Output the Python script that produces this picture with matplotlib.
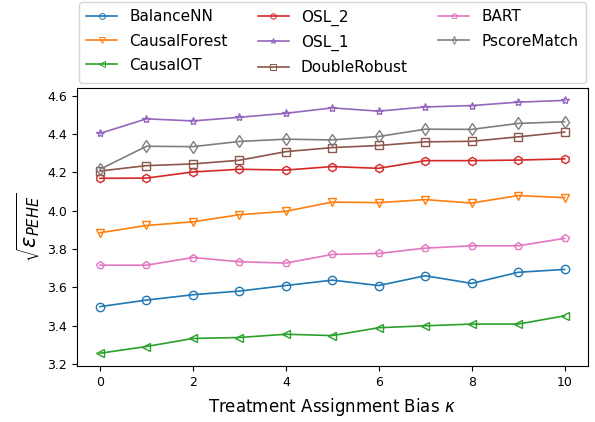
import matplotlib
matplotlib.use('Agg')
import matplotlib.pyplot as plt

kappa = list(range(11))

balance_nn = [3.500, 3.534, 3.562, 3.581, 3.610, 3.638, 3.610, 3.661, 3.621, 3.679, 3.694]
causal_forest = [3.885, 3.923, 3.942, 3.979, 3.997, 4.045, 4.042, 4.058, 4.040, 4.079, 4.068]
causal_ot = [3.257, 3.292, 3.334, 3.339, 3.356, 3.349, 3.390, 3.400, 3.409, 3.409, 3.452]
osl_2 = [4.169, 4.170, 4.202, 4.216, 4.212, 4.230, 4.221, 4.261, 4.261, 4.264, 4.270]
osl_1 = [4.403, 4.479, 4.468, 4.487, 4.508, 4.536, 4.519, 4.541, 4.548, 4.566, 4.575]
double_robust = [4.207, 4.235, 4.244, 4.263, 4.308, 4.329, 4.340, 4.359, 4.362, 4.385, 4.410]
bart = [3.716, 3.716, 3.756, 3.734, 3.727, 3.772, 3.777, 3.805, 3.817, 3.817, 3.856]
pscore_match = [4.216, 4.336, 4.334, 4.361, 4.373, 4.369, 4.387, 4.425, 4.424, 4.455, 4.464]

names = ['BalanceNN', 'CausalForest', 'CausalOT', 'OSL_2', 'OSL_1',
         'DoubleRobust', 'BART', 'PscoreMatch']
series = [balance_nn, causal_forest, causal_ot, osl_2, osl_1,
          double_robust, bart, pscore_match]
markers = ['o', 'v', '<', 'h', '*', 's', 'p', 'd']

fig = plt.figure(figsize=(5.95, 4.22), dpi=100)
ax = fig.add_axes([0.129, 0.133, 0.859, 0.659])

for name, vals, m in zip(names, series, markers):
    ax.plot(kappa, vals, marker=m, markerfacecolor='none', markersize=6,
            markeredgewidth=1.0, linewidth=1.2, label=name)

ax.tick_params(labelsize=9)
ax.set_xticks([0, 2, 4, 6, 8, 10])
ax.set_xlabel(r'Treatment Assignment Bias $\kappa$', fontsize=12, labelpad=5)
ax.set_ylabel(r'$\sqrt{\varepsilon_{PEHE}}$', fontsize=15)

leg = ax.legend(ncol=3, loc='lower center', bbox_to_anchor=(0.5, 1.018),
                fontsize=11, markerscale=0.7, borderaxespad=0.0,
                borderpad=0.5, labelspacing=0.6)
# thinner marker edges so the small legend markers stay hollow
for h in leg.legend_handles:
    h.set_markeredgewidth(0.7)

fig.savefig('out.png', dpi=100)
